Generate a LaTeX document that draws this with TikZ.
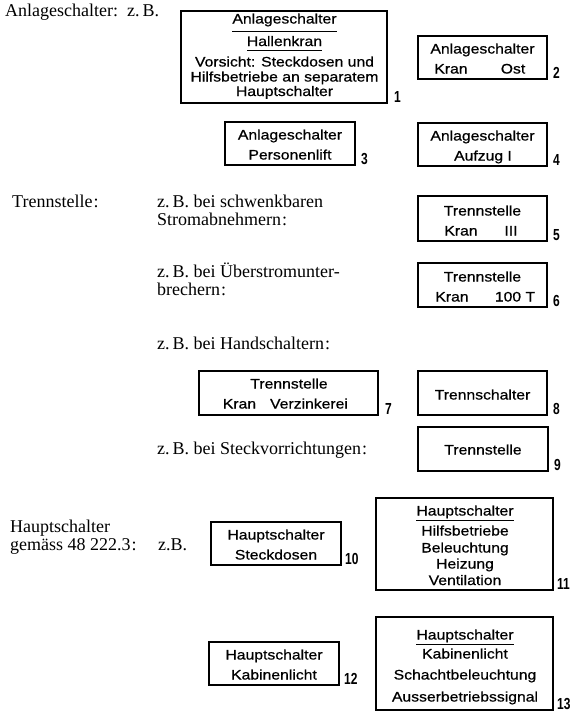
\documentclass[tikz,border=0pt]{standalone}
\usepackage{fontspec}
\setmainfont{Liberation Serif}
\newfontfamily\boxfamily[FakeStretch=1.14,FakeBold=0.7]{Liberation Sans}
\newfontfamily\labfamily[FakeStretch=0.75]{Liberation Sans}
\begin{document}
\begin{tikzpicture}[x=1pt,y=-1pt,
  box/.style={draw, line width=1.3pt, inner sep=0pt},
  bt/.style={font=\boxfamily\fontsize{13.8}{14}\selectfont, inner sep=0pt, anchor=base},
  lab/.style={font=\labfamily\bfseries\fontsize{16}{16}\selectfont, inner sep=0pt, anchor=base west},
  sr/.style={font=\fontsize{18}{18}\selectfont, inner sep=0pt, anchor=base west},
  rule/.style={line width=1pt}]
\useasboundingbox (0,0) rectangle (576,715);

% ---------- left serif texts
\node[sr] (tA) at (5,16) {Anlageschalter:};
\node[sr] (tAz) at (127,16) {z.\,B.};
\node[sr] (tT) at (12,207) {Trennstelle\kern1pt:};
\node[sr] (t5a) at (157,207) {z.\,B. bei schwenkbaren};
\node[sr] (t5b) at (157,225) {Stromabnehmern\kern1pt:};
\node[sr] (t6a) at (157,277) {z.\,B. bei Überstromunter-};
\node[sr] (t6b) at (157,295) {brechern\kern1pt:};
\node[sr] (t7) at (157,349) {z.\,B. bei Handschaltern\kern1pt:};
\node[sr] (t9) at (157,454) {z.\,B. bei Steckvorrichtungen\kern1pt:};
\node[sr] (tHa) at (10,532) {Hauptschalter};
\node[sr] (tHb) at (10,550) {gemäss 48 222.3\kern1pt:};
\node[sr] (tHz) at (158,550) {z.B.};

% ---------- box 1
\node[box, minimum width=206pt, minimum height=92pt] (b1) at (284,57) {};
\node[bt] (b1a) at (284.5,23.5) {Anlageschalter};
\draw[rule] (232,31) -- (337,31);
\node[bt] (b1b) at (284.5,46) {Hallenkran};
\draw[rule] (247,50) -- (322,50);
\node[bt] (b1c) at (284.5,66.5) {Vorsicht: Steckdosen und};
\node[bt] (b1d) at (284.5,81.5) {Hilfsbetriebe an separatem};
\node[bt] (b1e) at (284.5,96) {Hauptschalter};
\node[lab] (l1) at (394,102) {1};

% ---------- box 2
\node[box, minimum width=129pt, minimum height=43pt] (b2) at (482.5,57.5) {};
\node[bt] (b2a) at (482.5,53.5) {Anlageschalter};
\node[bt] (b2b) at (451,73.5) {Kran};
\node[bt] (b2c) at (513,73.5) {Ost};
\node[lab] (l2) at (553,78) {2};

% ---------- box 3
\node[box, minimum width=130pt, minimum height=43pt] (b3) at (290,143.5) {};
\node[bt] (b3a) at (290,139.5) {Anlageschalter};
\node[bt] (b3b) at (290,159.5) {Personenlift};
\node[lab] (l3) at (361,164) {3};

% ---------- box 4
\node[box, minimum width=129pt, minimum height=43pt] (b4) at (482.5,144.5) {};
\node[bt] (b4a) at (482.5,140.5) {Anlageschalter};
\node[bt] (b4b) at (483,160.5) {Aufzug I};
\node[lab] (l4) at (553,165) {4};

% ---------- box 5
\node[box, minimum width=129pt, minimum height=45pt] (b5) at (482.5,218.5) {};
\node[bt] (b5a) at (482.5,215.5) {Trennstelle};
\node[bt] (b5b) at (461,235.5) {Kran};
\node[bt] (b5c) at (511,235.5) {III};
\node[lab] (l5) at (553,240) {5};

% ---------- box 6
\node[box, minimum width=129pt, minimum height=44pt] (b6) at (482.5,285) {};
\node[bt] (b6a) at (482.5,281.5) {Trennstelle};
\node[bt] (b6b) at (452,301.5) {Kran};
\node[bt] (b6c) at (515,301.5) {100 T};
\node[lab] (l6) at (553,306) {6};

% ---------- box 7
\node[box, minimum width=179pt, minimum height=44pt] (b7) at (288.5,393) {};
\node[bt] (b7a) at (289,388.5) {Trennstelle};
\node[bt] (b7b) at (239.5,408.5) {Kran};
\node[bt] (b7c) at (309,408.5) {Verzinkerei};
\node[lab] (l7) at (385,414) {7};

% ---------- box 8
\node[box, minimum width=129pt, minimum height=44pt] (b8) at (482.5,393) {};
\node[bt] (b8a) at (482.5,399.5) {Trennschalter};
\node[lab] (l8) at (553,414) {8};

% ---------- box 9
\node[box, minimum width=130pt, minimum height=44pt] (b9) at (483,449) {};
\node[bt] (b9a) at (483,454.5) {Trennstelle};
\node[lab] (l9) at (554,470) {9};

% ---------- box 10
\node[box, minimum width=130pt, minimum height=43pt] (b10) at (276,543.5) {};
\node[bt] (b10a) at (276,539.5) {Hauptschalter};
\node[bt] (b10b) at (276,559.5) {Steckdosen};
\node[lab] (l10) at (345,564) {10};

% ---------- box 11
\node[box, minimum width=177pt, minimum height=92pt] (b11) at (464.5,544) {};
\node[bt] (b11a) at (465,515.5) {Hauptschalter};
\draw[rule] (416,520) -- (514,520);
\node[bt] (b11b) at (465,535.5) {Hilfsbetriebe};
\node[bt] (b11c) at (465,552.5) {Beleuchtung};
\node[bt] (b11d) at (465,568.5) {Heizung};
\node[bt] (b11e) at (465,585) {Ventilation};
\node[lab] (l11) at (557,589) {11};

% ---------- box 12
\node[box, minimum width=130pt, minimum height=43pt] (b12) at (274,663.5) {};
\node[bt] (b12a) at (274,659.5) {Hauptschalter};
\node[bt] (b12b) at (274,679.5) {Kabinenlicht};
\node[lab] (l12) at (344,684) {12};

% ---------- box 13
\node[box, minimum width=177pt, minimum height=93pt] (b13) at (464.5,663.5) {};
\node[bt] (b13a) at (465,639.5) {Hauptschalter};
\draw[rule] (416,644) -- (514,644);
\node[bt] (b13b) at (465,658.5) {Kabinenlicht};
\node[bt] (b13c) at (465,679.5) {Schachtbeleuchtung};
\node[bt] (b13d) at (465,701.5) {Ausserbetriebssignal};
\node[lab] (l13) at (557,709) {13};
\end{tikzpicture}
\end{document}
